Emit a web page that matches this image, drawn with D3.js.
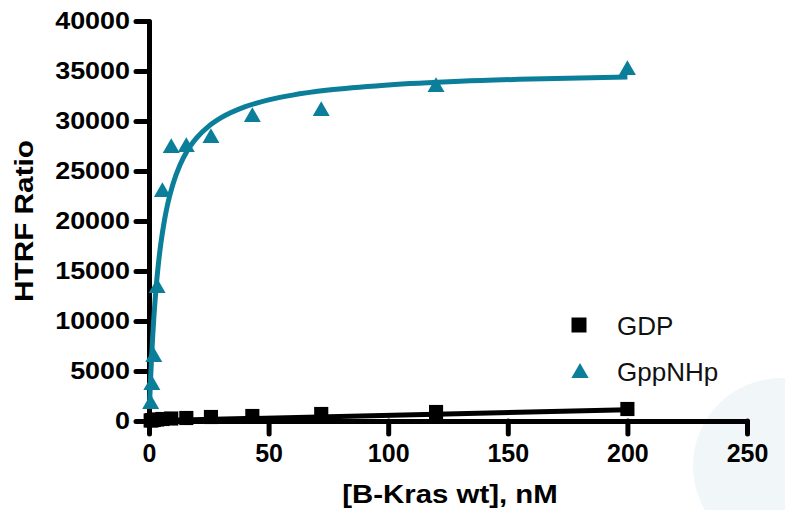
<!DOCTYPE html>
<html>
<head>
<meta charset="utf-8">
<script src="https://cdn.jsdelivr.net/npm/d3@7"></script>
<style>
  body { margin: 0; background: #fff; }
  svg { display: block; font-family: "Liberation Sans", Arial, sans-serif; }
</style>
</head>
<body>
<script>
// concentrations (nM) and HTRF ratio
var concX = [200, 120, 72, 43.2, 25.9, 15.6, 9.3, 5.6, 3.4, 2.0, 1.2, 0.7];
var gppnhpY = [35100, 33400, 31000, 30400, 28300, 27400, 27300, 22900, 13300, 6400, 3600, 1700];
var gdpY = [1200, 900, 700, 500, 400, 300, 250, 200, 150, 100, 80, 50];

// fitted curves as they are drawn in the picture
var gppFitX = [0.2, 0.5, 1, 1.5, 2, 3, 4, 5, 6.5, 8, 10, 13, 16, 20, 25, 30, 40, 50, 60, 75, 100, 130, 160, 200];
var gppFitY = [1390, 3280, 5990, 8290, 10240, 13420, 15870, 17830, 20130, 21900, 23680, 25620, 27020, 28330,
               29490, 30310, 31410, 32110, 32590, 33090, 33600, 33970, 34200, 34400];
var gdpFitX = [0.2, 200];
var gdpFitY = [20, 1120];

var xTicks = [0, 50, 100, 150, 200, 250];
var yTicks = [0, 5000, 10000, 15000, 20000, 25000, 30000, 35000, 40000];
var seriesNames = ["GDP", "GppNHp"];

var teal = "#0b7f99";
var W = 785, H = 510;

var svg = d3.select("body").append("svg").attr("width", W).attr("height", H);

// pale circle in the lower right corner
svg.append("circle").attr("cx", 781).attr("cy", 466).attr("r", 88).attr("fill", "#f1f7f8");

var x = d3.scaleLinear().domain([0, 250]).range([149, 747]);
var y = d3.scaleLinear().domain([0, 40000]).range([421, 21]);

// stretch text a bit wider, like the original rendering
function widen(sel, f) {
  sel.each(function() {
    var len = this.getComputedTextLength();
    d3.select(this).attr("textLength", len * f).attr("lengthAdjust", "spacingAndGlyphs");
  });
}

// axes
var yAxis = svg.append("g").attr("transform", "translate(149,0)")
  .call(d3.axisLeft(y).tickValues(yTicks).tickFormat(d3.format("d")).tickSize(13).tickSizeOuter(0).tickPadding(6));
var xAxis = svg.append("g").attr("transform", "translate(0,421)")
  .call(d3.axisBottom(x).tickValues(xTicks).tickFormat(d3.format("d")).tickSize(13).tickSizeOuter(0));

[yAxis, xAxis].forEach(function(a) {
  a.select(".domain").attr("stroke", "#000").attr("stroke-width", 5).attr("stroke-linecap", "round");
  a.selectAll(".tick line").attr("stroke", "#000").attr("stroke-width", 5).attr("stroke-linecap", "round");
});

yAxis.selectAll(".tick text")
  .attr("font-size", 23).attr("font-weight", "bold").attr("fill", "#000")
  .attr("font-family", "Liberation Sans, Arial, sans-serif").attr("dy", "0.32em");
widen(yAxis.selectAll(".tick text"), 1.17);

xAxis.selectAll(".tick text")
  .attr("font-size", 25).attr("font-weight", "bold").attr("fill", "#000")
  .attr("font-family", "Liberation Sans, Arial, sans-serif").attr("y", 41).attr("dy", 0);

// axis titles
var xt = svg.append("text").attr("x", 450).attr("y", 503).attr("text-anchor", "middle")
  .attr("font-size", 26).attr("font-weight", "bold").text("[B-Kras wt], nM");
widen(xt, 1.13);
var yt = svg.append("text").attr("transform", "translate(33,221) rotate(-90)").attr("text-anchor", "middle")
  .attr("font-size", 25).attr("font-weight", "bold").text("HTRF Ratio");
widen(yt, 1.19);

var line = d3.line().x(function(d) { return x(d[0]); }).y(function(d) { return y(d[1]); });

// GDP
svg.append("path").datum(d3.zip(gdpFitX, gdpFitY)).attr("d", line)
  .attr("fill", "none").attr("stroke", "#000").attr("stroke-width", 5);
svg.selectAll(".gdp").data(d3.zip(concX, gdpY)).enter().append("path").attr("class", "gdp")
  .attr("d", d3.symbol(d3.symbolSquare, 200))
  .attr("transform", function(d) { return "translate(" + x(d[0]) + "," + y(d[1]) + ")"; })
  .attr("fill", "#000");

// GppNHp
svg.selectAll(".gpp").data(d3.zip(concX, gppnhpY)).enter().append("path").attr("class", "gpp")
  .attr("d", d3.symbol(d3.symbolTriangle, 125))
  .attr("transform", function(d) { return "translate(" + x(d[0]) + "," + y(d[1]) + ")"; })
  .attr("fill", teal);
svg.append("path").datum(d3.zip(gppFitX, gppFitY)).attr("d", line.curve(d3.curveMonotoneX))
  .attr("fill", "none").attr("stroke", teal).attr("stroke-width", 5);

// legend
var legend = svg.append("g");
legend.append("path").attr("d", d3.symbol(d3.symbolSquare, 225)).attr("transform", "translate(579,325)").attr("fill", "#000");
legend.append("path").attr("d", d3.symbol(d3.symbolTriangle, 130)).attr("transform", "translate(580,373)").attr("fill", teal);
legend.selectAll("text").data(seriesNames).enter().append("text")
  .attr("x", 617).attr("y", function(d, i) { return 335 + i * 46; })
  .attr("font-size", 26).attr("fill", "#111").text(function(d) { return d; });
</script>
</body>
</html>
